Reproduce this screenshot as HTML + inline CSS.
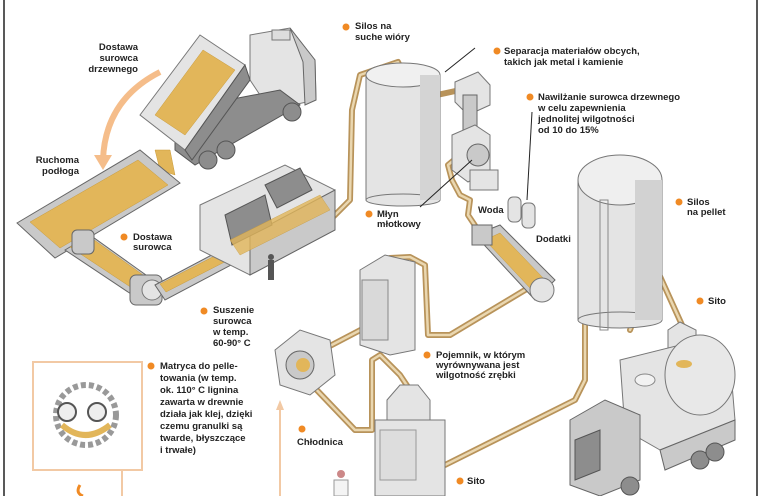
<!DOCTYPE html>
<html><head><meta charset="utf-8"><style>
html,body{margin:0;padding:0;background:#fff}
svg{display:block}
text{font-family:"Liberation Sans","Noto Sans CJK SC",sans-serif;font-weight:bold;font-size:9.5px;fill:#222}
.g1{fill:#e4e4e4;stroke:#777;stroke-width:1}
.g2{fill:#c9c9c9;stroke:#666;stroke-width:1}
.g3{fill:#8d8d8d;stroke:#555;stroke-width:1}
.p1{fill:none;stroke:#b8935a;stroke-width:6;stroke-linejoin:round;stroke-linecap:round}
.p2{fill:none;stroke:#ead7b0;stroke-width:2.5;stroke-linejoin:round;stroke-linecap:round}
.wood{fill:#e2b65a;stroke:#c89a3a;stroke-width:.5}
.dot{fill:#f08a24}
.ln{stroke:#222;stroke-width:1;fill:none}
</style></head><body>
<svg width="765" height="496" viewBox="0 0 765 496" xmlns="http://www.w3.org/2000/svg">
<rect width="765" height="496" fill="#fff"/>
<line x1="4" y1="0" x2="4" y2="496" stroke="#222" stroke-width="1.5"/>
<line x1="757" y1="0" x2="757" y2="496" stroke="#222" stroke-width="1.5"/>

<!-- orange arrow -->
<path d="M160,72 Q105,100 103,160" fill="none" stroke="#f5bd8a" stroke-width="6"/>
<polygon points="94,155 112,155 103,170" fill="#f5bd8a"/>

<!-- pipes -->
<g>
<polyline class="p1" points="240,240 330,220 350,200 352,110 360,75 398,62 402,70"/>
<polyline class="p2" points="240,240 330,220 350,200 352,110 360,75 398,62 402,70"/>
<polyline class="p1" points="437,95 460,90"/>
<polyline class="p1" points="460,155 448,165 452,180 460,195 470,200 468,215 478,230"/>
<polyline class="p2" points="460,155 448,165 452,180 460,195 470,200 468,215 478,230"/>
<polyline class="p1" points="525,290 450,335 428,335 425,265 410,257 390,258 387,268"/>
<polyline class="p2" points="525,290 450,335 428,335 425,265 410,257 390,258 387,268"/>
<polyline class="p1" points="307,358 370,325"/>
<polyline class="p2" points="307,358 370,325"/>
<polyline class="p1" points="312,385 355,430 372,430 372,360 380,355 400,375 410,390"/>
<polyline class="p2" points="312,385 355,430 372,430 372,360 380,355 400,375 410,390"/>
<polyline class="p1" points="445,465 575,400 585,380 585,200 592,195"/>
<polyline class="p2" points="445,465 575,400 585,380 585,200 592,195"/>
<polyline class="p1" points="630,330 645,290 650,272 658,272 682,325"/>
<polyline class="p2" points="630,330 645,290 650,272 658,272 682,325"/>
</g>

<!-- truck 1 -->
<polygon class="g1" points="250,35 290,28 315,60 316,100 270,110 250,80"/>
<polygon class="g2" points="290,28 315,60 316,100 305,105 303,62"/>
<rect x="272" y="30" width="18" height="10" fill="#ddd" stroke="#777"/>
<polygon class="g3" points="175,110 280,90 300,105 195,165 175,150"/>
<circle cx="208" cy="160" r="9" class="g3"/><circle cx="226" cy="150" r="9" class="g3"/><circle cx="292" cy="112" r="9" class="g3"/>
<polygon class="g1" points="140,115 200,35 245,65 185,150"/>
<polygon class="g3" points="185,150 245,65 250,80 192,160"/>
<polygon class="wood" points="155,115 203,50 235,70 185,135"/>
<polygon class="wood" points="155,150 170,150 175,175 160,170"/>

<!-- moving floor -->
<polygon class="g2" points="17,223 140,150 180,183 55,258"/>
<polygon class="wood" points="30,222 138,160 168,185 60,248"/>
<!-- conveyor 1 -->
<polygon class="g2" points="65,250 90,235 160,285 140,300"/>
<polygon class="wood" points="70,247 90,237 150,280 135,290"/>
<rect x="130" y="275" width="32" height="30" rx="6" class="g2"/>
<circle cx="152" cy="290" r="10" class="g1"/>
<rect x="72" y="230" width="22" height="24" rx="5" class="g2"/>
<!-- conveyor 2 -->
<polygon class="g2" points="155,285 240,240 250,255 165,300"/>
<polygon class="wood" points="160,284 238,244 244,252 166,292"/>

<!-- dryer -->
<polygon class="g1" points="200,205 285,165 335,190 335,230 250,275 200,250"/>
<polygon class="g2" points="250,235 335,190 335,230 250,275"/>
<polygon class="g3" points="225,215 265,195 272,225 232,245"/>
<polygon class="g3" points="265,185 300,168 312,190 277,208"/>
<polygon class="wood" points="230,240 320,195 330,210 240,255" opacity=".8"/>
<rect x="268" y="260" width="6" height="20" fill="#555"/><circle cx="271" cy="257" r="3" fill="#555"/>

<!-- silo 1 -->
<rect x="366" y="75" width="74" height="125" class="g1"/>
<ellipse cx="403" cy="75" rx="37" ry="12" fill="#f0f0f0" stroke="#777"/>
<ellipse cx="403" cy="200" rx="37" ry="6" fill="#e4e4e4" stroke="#777"/>
<rect x="420" y="75" width="20" height="125" fill="#d4d4d4"/>

<!-- separator + mill -->
<polygon class="g1" points="455,82 478,72 490,85 490,105 468,115 455,102"/>
<rect x="463" y="95" width="14" height="80" class="g2"/>
<polygon class="g1" points="452,135 475,125 490,135 490,170 468,182 452,170"/>
<circle cx="478" cy="155" r="11" class="g2"/>
<rect x="470" y="170" width="28" height="20" class="g1"/>
<!-- tanks -->
<rect x="508" y="197" width="13" height="25" rx="5" class="g1"/>
<rect x="522" y="203" width="13" height="25" rx="5" class="g1"/>
<!-- mixer -->
<polygon class="g2" points="475,235 500,225 555,280 535,300"/>
<polygon class="wood" points="485,240 500,233 545,280 530,288"/>
<circle cx="542" cy="290" r="12" class="g1"/>
<rect x="472" y="225" width="20" height="20" class="g2"/>

<!-- silo 2 -->
<rect x="578" y="180" width="84" height="140" class="g1"/>
<ellipse cx="620" cy="180" rx="42" ry="25" fill="#efefef" stroke="#777"/>
<ellipse cx="620" cy="320" rx="42" ry="8" fill="#e4e4e4" stroke="#777"/>
<rect x="635" y="180" width="27" height="140" fill="#d2d2d2"/>
<rect x="600" y="200" width="8" height="130" fill="none" stroke="#888"/>

<!-- conditioner -->
<polygon class="g1" points="360,270 385,255 415,262 415,350 390,355 360,345"/>
<rect x="362" y="280" width="26" height="60" fill="#d9d9d9" stroke="#888"/>
<!-- cooler fan -->
<polygon class="g1" points="275,350 300,330 330,340 335,375 310,395 280,385"/>
<circle cx="300" cy="365" r="14" class="g2"/>
<circle cx="303" cy="365" r="7" fill="#e2b65a"/>
<!-- pellet box -->
<polygon class="g1" points="387,400 400,385 418,385 430,400 430,425 387,425"/>
<rect x="375" y="420" width="70" height="76" class="g1"/>
<rect x="380" y="430" width="36" height="50" fill="#ddd" stroke="#999"/>
<!-- sito small -->
<polygon class="g1" points="668,330 680,322 696,330 696,350 682,357 668,350"/>
<polygon points="680,345 652,355 654,360 682,350" fill="#e8d9bd"/>
<!-- tanker -->
<polygon class="g1" points="620,360 700,340 730,360 735,420 660,450 625,430"/>
<ellipse cx="700" cy="375" rx="35" ry="40" fill="#e8e8e8" stroke="#777"/>
<polygon class="g2" points="660,450 735,420 735,440 665,470"/>
<circle cx="700" cy="460" r="9" class="g3"/><circle cx="715" cy="452" r="9" class="g3"/>
<polygon class="g2" points="570,420 605,400 640,415 640,480 600,496 570,485"/>
<polygon class="g3" points="575,440 600,430 600,470 575,480"/>
<circle cx="630" cy="486" r="9" class="g3"/>
<ellipse cx="645" cy="380" rx="10" ry="6" fill="#f2f2f2" stroke="#888"/>
<ellipse cx="684" cy="364" rx="8" ry="4" fill="#e2b65a"/>

<!-- inset -->
<rect x="33" y="362" width="109" height="108" fill="#fff" stroke="#f2c9a4" stroke-width="2"/>
<circle cx="86" cy="415" r="30" fill="none" stroke="#999" stroke-width="6" stroke-dasharray="5 3"/>
<path d="M62,425 Q85,445 110,425" fill="none" stroke="#e2b65a" stroke-width="6"/>
<circle cx="67" cy="412" r="9" fill="#eee" stroke="#555" stroke-width="2"/>
<circle cx="97" cy="412" r="9" fill="#eee" stroke="#555" stroke-width="2"/>
<line x1="122" y1="470" x2="122" y2="496" stroke="#f2c9a4" stroke-width="2"/>
<line x1="280" y1="405" x2="280" y2="496" stroke="#f2c9a4" stroke-width="2"/>
<polygon points="276,410 284,410 280,400" fill="#f2c9a4"/>
<path d="M80,485 q-5,8 3,11" fill="none" stroke="#f08a24" stroke-width="3"/>
<!-- person -->
<circle cx="341" cy="474" r="4" fill="#c88"/><rect x="334" y="480" width="14" height="16" fill="#f4f4f4" stroke="#999"/>

<!-- leader lines -->
<line class="ln" x1="445" y1="72" x2="475" y2="48"/>
<line class="ln" x1="527" y1="200" x2="532" y2="112"/>
<line class="ln" x1="420" y1="207" x2="472" y2="160"/>

<!-- labels -->
<g text-anchor="end"><text x="138" y="50">Dostawa</text><text x="138" y="61">surowca</text><text x="138" y="72">drzewnego</text>
<text x="79" y="163">Ruchoma</text><text x="79" y="174">podłoga</text></g>
<circle class="dot" cx="124" cy="237" r="3.5"/><text x="133" y="240">Dostawa</text><text x="133" y="250">surowca</text>
<circle class="dot" cx="346" cy="27" r="3.5"/><text x="355" y="29">Silos na</text><text x="355" y="40">suche wióry</text>
<circle class="dot" cx="497" cy="51" r="3.5"/><text x="504" y="54">Separacja materiałów obcych,</text><text x="504" y="65">takich jak metal i kamienie</text>
<circle class="dot" cx="530" cy="97" r="3.5"/><text x="538" y="100">Nawilżanie surowca drzewnego</text><text x="538" y="111">w celu zapewnienia</text><text x="538" y="122">jednolitej wilgotności</text><text x="538" y="133">od 10 do 15%</text>
<circle class="dot" cx="679" cy="202" r="3.5"/><text x="687" y="205">Silos</text><text x="687" y="215">na pellet</text>
<text x="478" y="213">Woda</text><text x="536" y="242">Dodatki</text>
<circle class="dot" cx="369" cy="214" r="3.5"/><text x="377" y="217">Młyn</text><text x="377" y="227">młotkowy</text>
<circle class="dot" cx="204" cy="311" r="3.5"/><text x="213" y="313">Suszenie</text><text x="213" y="324">surowca</text><text x="213" y="335">w temp.</text><text x="213" y="346">60-90° C</text>
<circle class="dot" cx="151" cy="366" r="3.5"/>
<text x="160" y="369">Matryca do pelle-</text><text x="160" y="381">towania (w temp.</text><text x="160" y="393">ok. 110° C lignina</text><text x="160" y="405">zawarta w drewnie</text><text x="160" y="417">działa jak klej, dzięki</text><text x="160" y="429">czemu granulki są</text><text x="160" y="441">twarde, błyszczące</text><text x="160" y="453">i trwałe)</text>
<circle class="dot" cx="302" cy="429" r="3.5"/><text x="297" y="445">Chłodnica</text>
<circle class="dot" cx="427" cy="355" r="3.5"/><text x="436" y="358">Pojemnik, w którym</text><text x="436" y="368">wyrównywana jest</text><text x="436" y="378">wilgotność zrębki</text>
<circle class="dot" cx="460" cy="481" r="3.5"/><text x="467" y="484">Sito</text>
<circle class="dot" cx="700" cy="301" r="3.5"/><text x="708" y="304">Sito</text>
</svg>
</body></html>
